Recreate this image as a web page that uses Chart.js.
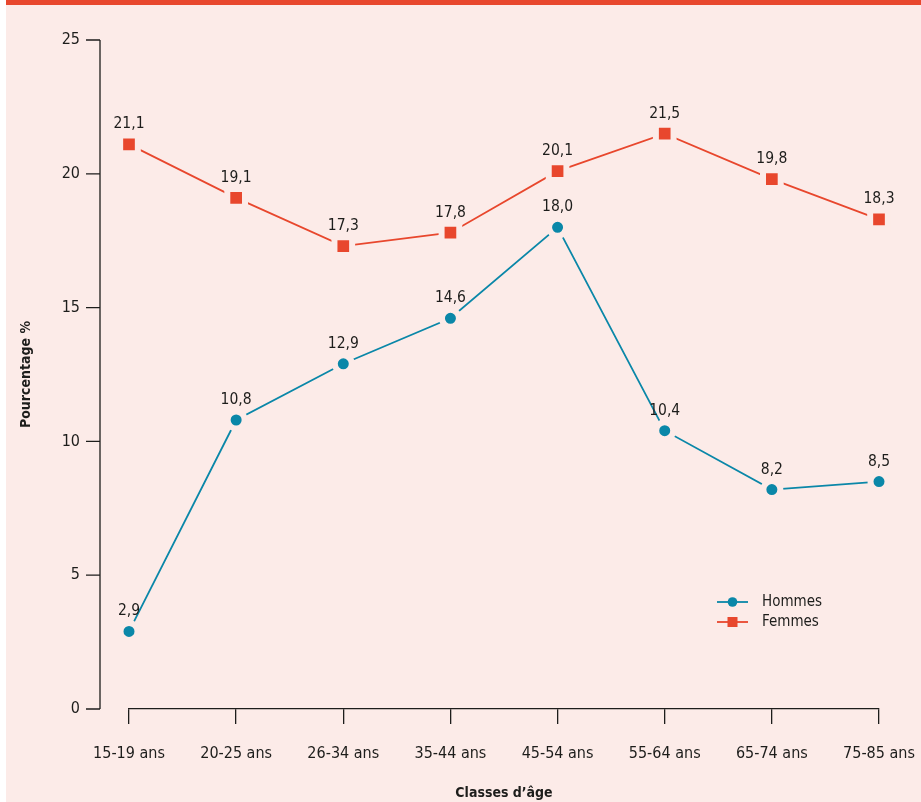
<!DOCTYPE html>
<html>
<head>
<meta charset="utf-8">
<script src="https://cdn.jsdelivr.net/npm/chart.js@4"></script>
<style>
  html, body { margin: 0; padding: 0; background: #ffffff; }
  #frame {
    position: absolute; left: 6px; top: 0; width: 915px; height: 797px;
    border-top: 5px solid #e8472d; background: #fcebe8;
  }
  canvas { display: block; }
</style>
</head>
<body>
<div id="frame"><canvas id="ageChart" width="915" height="797"></canvas></div>
<script>
// Data
const ageClasses = ['15-19 ans', '20-25 ans', '26-34 ans', '35-44 ans', '45-54 ans', '55-64 ans', '65-74 ans', '75-85 ans'];
const hommes = [2.9, 10.8, 12.9, 14.6, 18.0, 10.4, 8.2, 8.5];
const femmes = [21.1, 19.1, 17.3, 17.8, 20.1, 21.5, 19.8, 18.3];
const yTicks = [0, 5, 10, 15, 20, 25];

const FONT = "'DejaVu Sans Condensed', 'Liberation Sans Narrow', sans-serif";
const INK = '#1d1d1b';
const BG = '#fcebe8';
const BLUE = '#0a87a8';
const RED = '#e8472d';

Chart.defaults.font.family = FONT;
Chart.defaults.color = INK;

function fmt(v) { return v.toFixed(1).replace('.', ','); }

// y axis drawn set apart from the plot, plus value labels and the legend
const decorPlugin = {
  id: 'decor',
  afterDraw(chart) {
    const ctx = chart.ctx;
    const y = chart.scales.y;
    const axisX = chart.chartArea.left - 29;

    ctx.save();
    ctx.strokeStyle = INK;
    ctx.lineWidth = 1.3;
    ctx.beginPath();
    ctx.moveTo(axisX, y.getPixelForValue(yTicks[yTicks.length - 1]));
    ctx.lineTo(axisX, y.getPixelForValue(yTicks[0]));
    yTicks.forEach(t => {
      const py = y.getPixelForValue(t);
      ctx.moveTo(axisX - 14, py);
      ctx.lineTo(axisX, py);
    });
    ctx.stroke();

    // value labels above points
    ctx.fillStyle = INK;
    ctx.font = '15.5px ' + FONT;
    ctx.textAlign = 'center';
    ctx.textBaseline = 'middle';
    chart.data.datasets.forEach((ds, i) => {
      chart.getDatasetMeta(i).data.forEach((pt, j) => {
        ctx.fillText(fmt(ds.data[j]), pt.x, pt.y - 20);
      });
    });

    // legend: line with marker
    const lx = 711, items = [[597, BLUE, 'circle', 'Hommes'], [617, RED, 'rect', 'Femmes']];
    items.forEach(([ly, col, shape, label]) => {
      ctx.strokeStyle = col;
      ctx.lineWidth = 1.8;
      ctx.beginPath();
      ctx.moveTo(lx, ly);
      ctx.lineTo(lx + 31, ly);
      ctx.stroke();
      ctx.fillStyle = col;
      if (shape === 'circle') {
        ctx.beginPath();
        ctx.arc(lx + 15.5, ly, 4.8, 0, Math.PI * 2);
        ctx.fill();
      } else {
        ctx.fillRect(lx + 10.5, ly - 5, 10, 10);
      }
      ctx.fillStyle = INK;
      ctx.textAlign = 'left';
      ctx.font = '15px ' + FONT;
      ctx.fillText(label, lx + 45, ly);
    });
    ctx.restore();
  }
};

new Chart(document.getElementById('ageChart'), {
  type: 'line',
  data: {
    labels: ageClasses,
    datasets: [
      {
        label: 'Hommes',
        data: hommes,
        borderColor: BLUE,
        borderWidth: 1.8,
        pointStyle: 'circle',
        pointRadius: 8.5,
        pointBackgroundColor: BLUE,
        pointBorderColor: BG,
        pointBorderWidth: 6,
        tension: 0
      },
      {
        label: 'Femmes',
        data: femmes,
        borderColor: RED,
        borderWidth: 1.8,
        pointStyle: 'rect',
        pointRadius: 12.5,
        pointBackgroundColor: RED,
        pointBorderColor: BG,
        pointBorderWidth: 6,
        tension: 0
      }
    ]
  },
  options: {
    responsive: false,
    animation: false,
    layout: { padding: { left: 0, right: 42, top: 35, bottom: 0 } },
    plugins: { legend: { display: false }, tooltip: { enabled: false } },
    scales: {
      x: {
        offset: false,
        grid: { drawOnChartArea: false, color: INK, lineWidth: 1.3, tickLength: 15 },
        border: { display: true, color: INK, width: 1.3 },
        ticks: { font: { size: 16 }, color: INK, padding: 20, maxRotation: 0, autoSkip: false },
        title: { display: true, text: 'Classes d’âge', font: { size: 14, weight: 'bold' }, color: INK, padding: 0 },
        afterFit(scale) { scale.height = 93; scale.paddingLeft = 0; scale.paddingRight = 0; }
      },
      y: {
        min: 0,
        max: 25,
        afterBuildTicks(scale) { scale.ticks = yTicks.map(v => ({ value: v })); },
        grid: { display: false, drawTicks: false },
        border: { display: false },
        ticks: { font: { size: 16 }, color: INK, padding: 49 },
        title: { display: true, text: 'Pourcentage %', font: { size: 14, weight: 'bold' }, color: INK, padding: { top: 12, bottom: 0 } },
        afterFit(scale) { scale.width = 123; scale.paddingTop = 0; scale.paddingBottom = 0; }
      }
    }
  },
  plugins: [decorPlugin]
});
</script>
</body>
</html>
